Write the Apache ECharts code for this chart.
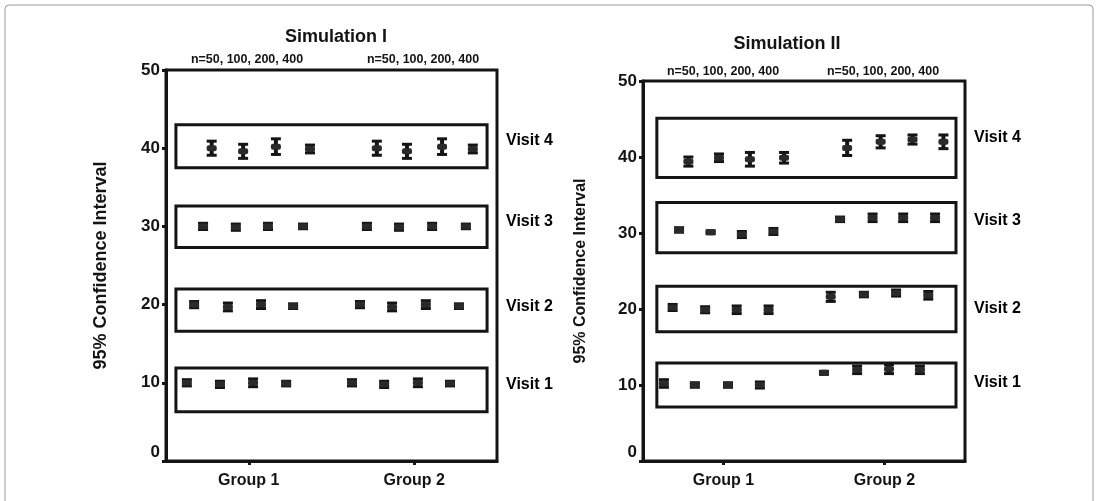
<!DOCTYPE html>
<html>
<head>
<meta charset="utf-8">
<script src="https://cdn.jsdelivr.net/npm/echarts@6/dist/echarts.min.js"></script>
<style>
html,body{margin:0;padding:0;background:#fff;}
#c{width:1099px;height:501px;}
</style>
</head>
<body>
<div id="c"></div>
<script>
// ---- data ----
const groups = ['Group 1', 'Group 2'];
const visits = ['Visit 1', 'Visit 2', 'Visit 3', 'Visit 4'];
const nLabel = 'n=50, 100, 200, 400';
const yTicks = [0, 10, 20, 30, 40, 50];

// Simulation I: per visit, 8 points (group 1 n=50..400, group 2 n=50..400)
const s1Pos = [
  [6.3, 16.3, 26.3, 36.3, 56.2, 65.9, 76.1, 85.8],
  [8.5, 18.7, 28.7, 38.4, 58.6, 68.3, 78.5, 88.5],
  [11.2, 21.1, 30.8, 41.4, 60.7, 70.4, 80.4, 90.6],
  [13.8, 23.3, 33.2, 43.5, 63.7, 72.8, 83.4, 92.7]
];
const s1Mean = [
  [10.0, 9.8, 10.0, 9.9, 10.0, 9.8, 10.0, 9.9],
  [20.0, 19.7, 20.0, 19.8, 20.0, 19.7, 20.0, 19.8],
  [30.0, 29.9, 30.0, 30.0, 30.0, 29.9, 30.0, 30.0],
  [40.0, 39.6, 40.2, 39.9, 40.0, 39.6, 40.2, 39.9]
];
const s1Half = [
  [0.4, 0.4, 0.5, 0.3, 0.4, 0.4, 0.5, 0.3],
  [0.4, 0.5, 0.5, 0.3, 0.4, 0.5, 0.5, 0.3],
  [0.4, 0.4, 0.4, 0.3, 0.4, 0.4, 0.4, 0.3],
  [0.9, 0.9, 1.0, 0.5, 0.9, 0.9, 1.0, 0.5]
];
const s1BoxLow = [6.3, 16.6, 27.3, 37.5];
const s1BoxHigh = [11.9, 22.0, 32.6, 43.0];
const s1BoxX = [3, 97];
const s1LabelY = [9.8, 19.8, 30.6, 41.0];

// Simulation II
const s2Pos = [
  [6.5, 16.1, 26.4, 36.3, 56.2, 66.5, 76.4, 86.0],
  [9.2, 19.3, 29.1, 39.0, 58.3, 68.6, 78.6, 88.6],
  [11.2, 21.0, 30.7, 40.5, 61.2, 71.3, 80.8, 90.7],
  [14.1, 23.6, 33.2, 43.8, 63.4, 73.8, 83.7, 93.3]
];
const s2Mean = [
  [10.2, 10.0, 10.0, 10.0, 11.6, 12.0, 12.1, 12.0],
  [20.2, 19.9, 19.9, 19.9, 21.6, 21.9, 22.1, 21.8],
  [30.4, 30.1, 29.8, 30.2, 31.8, 32.0, 32.0, 32.0],
  [39.4, 39.9, 39.7, 39.9, 41.2, 42.0, 42.3, 42.0]
];
const s2Half = [
  [0.5, 0.3, 0.3, 0.4, 0.2, 0.5, 0.6, 0.5],
  [0.4, 0.4, 0.5, 0.5, 0.6, 0.3, 0.4, 0.5],
  [0.3, 0.2, 0.4, 0.4, 0.3, 0.5, 0.5, 0.5],
  [0.6, 0.5, 0.9, 0.7, 1.0, 0.8, 0.6, 0.9]
];
const s2BoxLow = [7.1, 17.0, 27.4, 37.3];
const s2BoxHigh = [12.9, 23.0, 34.0, 45.1];
const s2BoxX = [4.3, 97.2];
const s2LabelY = [10.3, 20.1, 31.6, 42.5];

// ---- build ----
const INK = '#141414';
const FONT = 'Liberation Sans, Arial, sans-serif';

function errData(pos, mean, half) {
  const out = [];
  for (let v = 0; v < pos.length; v++)
    for (let i = 0; i < pos[v].length; i++)
      out.push([pos[v][i], mean[v][i], half[v][i]]);
  return out;
}
function boxes(low, high, bx) {
  return low.map((l, i) => [{ coord: [bx[0], high[i]] }, { coord: [bx[1], l] }]);
}
function renderErr(params, api) {
  const x = api.value(0), m = api.value(1), h = api.value(2);
  const t = api.coord([x, m + h]), b = api.coord([x, m - h]), c = api.coord([x, m]);
  const w = 5;
  return {
    type: 'group',
    children: [
      { type: 'line', shape: { x1: c[0], y1: t[1], x2: c[0], y2: b[1] }, style: { stroke: INK, lineWidth: 4 } },
      { type: 'line', shape: { x1: c[0] - w, y1: t[1], x2: c[0] + w, y2: t[1] }, style: { stroke: INK, lineWidth: 3 } },
      { type: 'line', shape: { x1: c[0] - w, y1: b[1], x2: c[0] + w, y2: b[1] }, style: { stroke: INK, lineWidth: 3 } },
      { type: 'rect', shape: { x: c[0] - 5, y: c[1] - 3, width: 10, height: 6, r: 2 }, style: { fill: '#2a2a2a' } }
    ]
  };
}

function yAxisCfg(gi, nameGap, nameSize) {
  return {
    type: 'value', gridIndex: gi, min: 0, max: 50, interval: 10,
    name: '95% Confidence Interval', nameLocation: 'middle', nameGap: nameGap,
    nameTextStyle: { color: INK, fontWeight: 'bold', fontSize: nameSize, fontFamily: FONT },
    axisLine: { show: true, lineStyle: { color: INK, width: 3 } },
    axisTick: { show: true, length: 4, lineStyle: { color: INK, width: 3 } },
    splitLine: { show: false },
    axisLabel: {
      color: INK, fontWeight: 'bold', fontSize: 17, fontFamily: FONT, margin: 6,
      formatter: v => (yTicks.indexOf(v) === 0 ? '{z|' + v + '}' : String(v)),
      rich: { z: { fontWeight: 'bold', fontSize: 17, fontFamily: FONT, color: INK, padding: [0, 0, 18, 0] } }
    }
  };
}
function xValCfg(gi) {
  return { type: 'value', gridIndex: gi, min: 0, max: 100, show: false };
}
function xCatCfg(gi) {
  return {
    type: 'category', gridIndex: gi, data: groups, position: 'bottom', boundaryGap: true,
    axisLine: { show: true, lineStyle: { color: INK, width: 3 } },
    axisTick: { show: true, alignWithLabel: true, length: 4, lineStyle: { color: INK, width: 3 } },
    axisLabel: { color: INK, fontWeight: 'bold', fontSize: 16, fontFamily: FONT, margin: 12 },
    splitLine: { show: false }
  };
}
function seriesFor(gi, xIdx, pos, mean, half, low, high, bx, labelY) {
  return [
    {
      type: 'custom', xAxisIndex: xIdx, yAxisIndex: gi, renderItem: renderErr,
      data: errData(pos, mean, half), silent: true, z: 5,
      markArea: {
        silent: true,
        itemStyle: { color: 'rgba(0,0,0,0)', borderColor: INK, borderWidth: 3 },
        data: boxes(low, high, bx)
      }
    },
    {
      type: 'scatter', xAxisIndex: xIdx, yAxisIndex: gi, symbolSize: 0, silent: true,
      itemStyle: { opacity: 1, color: INK },
      data: labelY.map(y => [100, y]),
      label: {
        show: true, position: 'right', distance: 9, opacity: 1,
        formatter: p => visits[p.dataIndex],
        color: '#000', fontWeight: 'bold', fontSize: 16, fontFamily: FONT
      }
    }
  ];
}

const chart = echarts.init(document.getElementById('c'), null, { renderer: 'canvas' });
chart.setOption({
  backgroundColor: '#fff',
  animation: false,
  grid: [
    { left: 166, top: 70, width: 331, height: 391, show: true, borderColor: INK, borderWidth: 3, backgroundColor: 'rgba(0,0,0,0)' },
    { left: 643, top: 81, width: 322, height: 380, show: true, borderColor: INK, borderWidth: 3, backgroundColor: 'rgba(0,0,0,0)' }
  ],
  xAxis: [xValCfg(0), xCatCfg(0), xValCfg(1), xCatCfg(1)],
  yAxis: [yAxisCfg(0, 56, 18), yAxisCfg(1, 54, 16)],
  series: [
    ...seriesFor(0, 0, s1Pos, s1Mean, s1Half, s1BoxLow, s1BoxHigh, s1BoxX, s1LabelY),
    ...seriesFor(1, 2, s2Pos, s2Mean, s2Half, s2BoxLow, s2BoxHigh, s2BoxX, s2LabelY)
  ],
  graphic: [
    { type: 'rect', shape: { x: 5, y: 5, width: 1088, height: 520, r: 4 }, style: { fill: 'none', stroke: '#9a9a9a', lineWidth: 1 }, z: 0 },
    { type: 'text', x: 336, y: 37, style: { text: 'Simulation I', textAlign: 'center', textVerticalAlign: 'middle', fill: INK, font: 'bold 18px ' + FONT } },
    { type: 'text', x: 787, y: 44, style: { text: 'Simulation II', textAlign: 'center', textVerticalAlign: 'middle', fill: INK, font: 'bold 18px ' + FONT } },
    { type: 'text', x: 247, y: 60, style: { text: nLabel, textAlign: 'center', textVerticalAlign: 'middle', fill: INK, font: 'bold 12.5px ' + FONT } },
    { type: 'text', x: 423, y: 60, style: { text: nLabel, textAlign: 'center', textVerticalAlign: 'middle', fill: INK, font: 'bold 12.5px ' + FONT } },
    { type: 'text', x: 723, y: 72, style: { text: nLabel, textAlign: 'center', textVerticalAlign: 'middle', fill: INK, font: 'bold 12.5px ' + FONT } },
    { type: 'text', x: 883, y: 72, style: { text: nLabel, textAlign: 'center', textVerticalAlign: 'middle', fill: INK, font: 'bold 12.5px ' + FONT } }
  ]
});
</script>
</body>
</html>
